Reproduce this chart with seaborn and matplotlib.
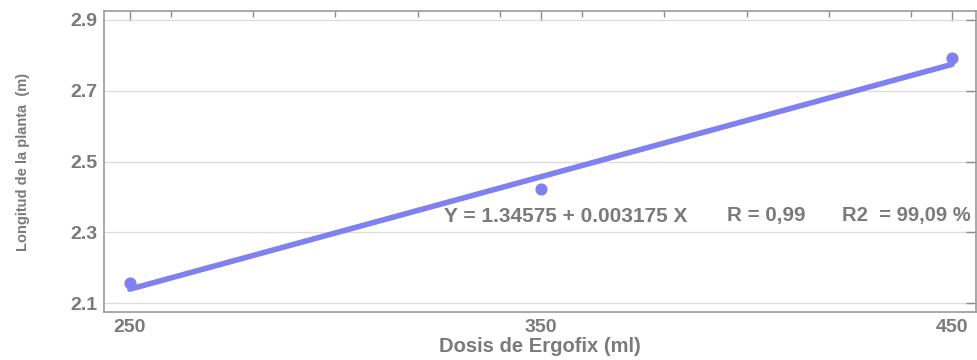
import numpy as np
import pandas as pd
import matplotlib
matplotlib.use("Agg")
import matplotlib.pyplot as plt
import seaborn as sns
from matplotlib.ticker import MultipleLocator

dosis = [250, 350, 450]
longitud = [2.157, 2.422, 2.792]
x_ticks = [250, 350, 450]
y_ticks = [2.1, 2.3, 2.5, 2.7, 2.9]
eq_text = "Y = 1.34575 + 0.003175 X"
r_text = "R = 0,99"
r2_text = "R2  = 99,09 %"

sns.set_theme(style="white")
plt.rcParams['font.family'] = ['Liberation Sans', 'DejaVu Sans']

df = pd.DataFrame({"Dosis": dosis, "Longitud": longitud})

fig = plt.figure(figsize=(9.77, 3.6), dpi=100)
ax = fig.add_axes([0.1064, 0.1333, 0.8925, 0.836])

col = "#8080f0"
grey = "#7a7a7a"
sns.regplot(data=df, x="Dosis", y="Longitud", ax=ax, ci=None, truncate=True,
            scatter_kws=dict(s=60, color=col, marker="o", alpha=1, zorder=3),
            line_kws=dict(color=col, lw=4, solid_capstyle="round", zorder=2))

ax.set_xlim(243.7, 455.8)
ax.set_ylim(2.075, 2.925)
ax.set_xticks(x_ticks)
ax.xaxis.set_minor_locator(MultipleLocator(20))
ax.set_yticks(y_ticks)
ax.set_yticklabels([f"{v:.1f}" for v in y_ticks])
ax.yaxis.grid(True, color="#dcdcdc", lw=1)
ax.set_axisbelow(True)

for s in ax.spines.values():
    s.set_color("#9a9a9a")
    s.set_linewidth(1.2)

ax.tick_params(axis="both", which="major", direction="in", length=7, width=1,
               color="#8a8a8a", labelsize=14, labelcolor=grey,
               top=True, right=True, pad=5)
ax.tick_params(axis="x", which="minor", direction="in", length=4, width=1,
               color="#8a8a8a", top=True)
for lab in ax.get_xticklabels() + ax.get_yticklabels():
    lab.set_fontweight("bold")

ax.set_xlabel("Dosis de Ergofix (ml)", fontsize=14.5, fontweight="bold", color=grey, labelpad=1)
ax.set_ylabel("Longitud de la planta  (m)", fontsize=10.5, fontweight="bold", color=grey, labelpad=29)

ax.text(0.390, 0.318, eq_text, transform=ax.transAxes, fontsize=15,
        fontweight="bold", color=grey, ha="left", va="center")
ax.text(0.714, 0.322, r_text, transform=ax.transAxes, fontsize=14.8,
        fontweight="bold", color=grey, ha="left", va="center")
ax.text(0.846, 0.322, r2_text, transform=ax.transAxes, fontsize=14.5,
        fontweight="bold", color=grey, ha="left", va="center")

fig.savefig("out.png", dpi=100)
